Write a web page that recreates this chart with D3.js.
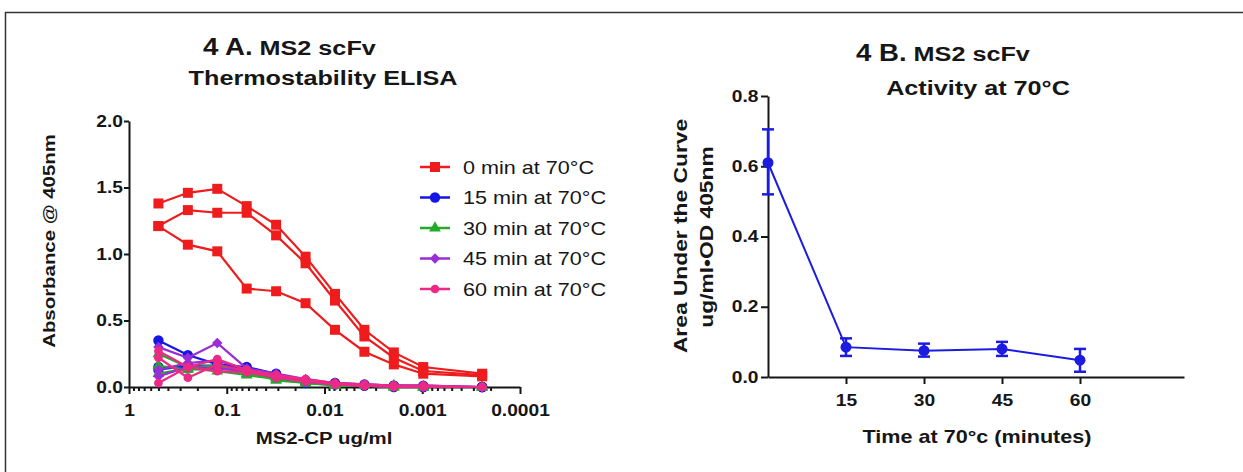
<!DOCTYPE html>
<html lang="en">
<head>
<meta charset="UTF-8">
<title>MS2 scFv thermostability</title>
<style>
    body { margin: 0; padding: 0; background: #fff; }
    svg text { font-family: "Liberation Sans", Arial, sans-serif; fill: #161616; }
    .axis path, .axis line { stroke: #161616; stroke-width: 2; }
</style>
</head>
<body>
<script src="https://d3js.org/d3.v7.min.js"></script>
<script>
// ---- panel A data : 2-fold dilutions of MS2-CP (ug/ml) ----
const concentrations = [0.5, 0.25, 0.125, 0.0625, 0.03125, 0.015625, 0.0078125, 0.00390625, 0.001953, 0.000977, 0.000244];
const xTicksA = [1, 0.1, 0.01, 0.001, 0.0001];
const yTicksA = [0, 0.5, 1.0, 1.5, 2.0];

// replicates for each heating time (absorbance @ 405nm)
const min0 = [
    [1.38, 1.46, 1.49, 1.36, 1.22, 0.98, 0.70, 0.43, 0.26, 0.15, 0.10],
    [1.21, 1.33, 1.31, 1.31, 1.14, 0.93, 0.65, 0.38, 0.22, 0.12, 0.09],
    [1.21, 1.07, 1.02, 0.74, 0.72, 0.63, 0.43, 0.265, 0.17, 0.10, 0.08]
];
const min15 = [
    [0.35, 0.24, 0.17, 0.15, 0.10, 0.05, 0.03, 0.02, 0.01, 0.01, 0.00],
    [0.13, 0.16, 0.16, 0.14, 0.08, 0.04, 0.02, 0.01, 0.01, 0.00, 0.00],
    [0.15, 0.14, 0.15, 0.12, 0.07, 0.03, 0.02, 0.01, 0.00, 0.00, 0.00]
];
const min30 = [
    [0.25, 0.15, 0.16, 0.10, 0.07, 0.04, 0.02, 0.01, 0.01, 0.00, 0.00],
    [0.16, 0.13, 0.14, 0.12, 0.05, 0.03, 0.02, 0.01, 0.00, 0.00, 0.00],
    [0.10, 0.14, 0.12, 0.09, 0.06, 0.03, 0.01, 0.01, 0.00, 0.00, 0.00]
];
const min45 = [
    [0.30, 0.22, 0.33, 0.14, 0.10, 0.06, 0.03, 0.02, 0.01, 0.01, 0.00],
    [0.13, 0.18, 0.20, 0.13, 0.08, 0.05, 0.02, 0.01, 0.01, 0.00, 0.00],
    [0.08, 0.15, 0.14, 0.12, 0.07, 0.04, 0.02, 0.01, 0.00, 0.00, 0.00]
];
const min60 = [
    [0.27, 0.15, 0.21, 0.13, 0.09, 0.06, 0.03, 0.02, 0.01, 0.01, 0.00],
    [0.22, 0.07, 0.17, 0.12, 0.08, 0.05, 0.02, 0.01, 0.01, 0.00, 0.00],
    [0.03, 0.15, 0.12, 0.11, 0.07, 0.04, 0.02, 0.01, 0.00, 0.00, 0.00]
];
const seriesNames = ["0 min at 70°C", "15 min at 70°C", "30 min at 70°C", "45 min at 70°C", "60 min at 70°C"];
const seriesData = [min0, min15, min30, min45, min60];
const seriesColors = ["#ee1c1c", "#1515e6", "#22aa2a", "#9a2ed6", "#ec2a86"];
const seriesSymbols = [d3.symbolSquare, d3.symbolCircle, d3.symbolTriangle, d3.symbolDiamond2 || d3.symbolDiamond, d3.symbolCircle];
const symbolSizes = [100, 85, 60, 70, 60];

// ---- panel B data : area under the curve vs time at 70°C ----
const timePoints = [0, 15, 30, 45, 60];
const aucMean = [0.61, 0.085, 0.075, 0.08, 0.048];
const aucLow = [0.52, 0.06, 0.058, 0.06, 0.015];
const aucHigh = [0.705, 0.11, 0.095, 0.10, 0.08];
const xTicksB = [15, 30, 45, 60];
const yTicksB = [0, 0.2, 0.4, 0.6, 0.8];

const W = 1243, H = 472;
const WIDE = 1.2; // the figure's lettering is horizontally wide

const svg = d3.select("body").append("svg")
    .attr("width", W)
    .attr("height", H);

// frame around the figure
svg.append("rect")
    .attr("x", 5.5).attr("y", 12.5)
    .attr("width", 1300).attr("height", 500)
    .attr("fill", "none")
    .attr("stroke", "#333")
    .attr("stroke-width", 1.5);

// helper for a stretched text label
function label(txt, x, y, size, opts = {}) {
    return svg.append("text")
        .attr("transform", `translate(${x},${y}) rotate(${opts.rotate || 0}) scale(${WIDE},1)`)
        .attr("text-anchor", opts.anchor || "middle")
        .style("font-size", size + "px")
        .style("font-weight", opts.weight || "bold")
        .text(txt);
}

function styleTicks(g, size) {
    g.selectAll(".tick text")
        .attr("transform", `scale(${WIDE},1)`)
        .style("font-size", size + "px")
        .style("font-weight", "bold")
        .style("font-family", "'Liberation Sans', Arial, sans-serif")
        .attr("fill", "#161616");
}

// ================= Panel A =================
const xA = d3.scaleLog().domain([1, 0.0001]).range([129, 520]);
const yA = d3.scaleLinear().domain([0, 2]).range([387, 121]);

// log ticks 1..9 in every decade, labels only on the decades
const logTicks = [1];
[1, 0.1, 0.01, 0.001].forEach(p => {
    for (let k = 1; k <= 9; k++) logTicks.push(+(p * k / 10).toPrecision(3));
});

const axisXA = svg.append("g")
    .attr("class", "axis")
    .attr("transform", `translate(0,${yA(0)})`)
    .call(d3.axisBottom(xA)
        .tickValues(logTicks)
        .tickSizeOuter(0)
        .tickSizeInner(7)
        .tickPadding(11)
        .tickFormat(d => xTicksA.includes(d) ? String(d) : ""));
axisXA.selectAll(".tick")
    .filter(d => !xTicksA.includes(d))
    .select("line").attr("y2", 4);
styleTicks(axisXA, 16);

const axisYA = svg.append("g")
    .attr("class", "axis")
    .attr("transform", `translate(${xA(1)},0)`)
    .call(d3.axisLeft(yA)
        .tickValues(yTicksA)
        .tickSizeOuter(0)
        .tickSizeInner(5)
        .tickPadding(0)
        .tickFormat(d3.format(".1f")));
styleTicks(axisYA, 16);

const lineA = d3.line()
    .x((d, i) => xA(concentrations[i]))
    .y(d => yA(d));

// draw low series first, red on top at the end
[1, 2, 3, 4, 0].forEach(s => {
    const g = svg.append("g");
    seriesData[s].forEach(rep => {
        g.append("path")
            .datum(rep)
            .attr("d", lineA)
            .attr("fill", "none")
            .attr("stroke", seriesColors[s])
            .attr("stroke-width", 2.2);
        g.selectAll(null)
            .data(rep)
            .enter().append("path")
            .attr("d", d3.symbol().type(seriesSymbols[s]).size(symbolSizes[s]))
            .attr("transform", (d, i) => `translate(${xA(concentrations[i])},${yA(d)})`)
            .attr("fill", seriesColors[s]);
    });
});

// legend
const legend = svg.append("g").attr("transform", "translate(420,0)");
const legendY = d3.scalePoint().domain(seriesNames).range([167, 289]);
seriesNames.forEach((name, s) => {
    const y = legendY(name);
    legend.append("line")
        .attr("x1", 0).attr("x2", 30)
        .attr("y1", y).attr("y2", y)
        .attr("stroke", seriesColors[s])
        .attr("stroke-width", 2.5);
    legend.append("path")
        .attr("d", d3.symbol().type(seriesSymbols[s]).size(symbolSizes[s]))
        .attr("transform", `translate(15,${y})`)
        .attr("fill", seriesColors[s]);
    legend.append("text")
        .attr("transform", `translate(43,${y + 6.5}) scale(${WIDE},1)`)
        .style("font-size", "18px")
        .text(name);
});

// titles & axis labels A
const tA = label("", 203, 55, 21, { anchor: "start" });
tA.append("tspan").style("font-size", "23px").text("4 A.");
tA.append("tspan").text(" MS2 scFv");
label("Thermostability ELISA", 323, 85, 21);
label("Absorbance @ 405nm", 55, 241, 17, { rotate: -90 });
label("MS2-CP ug/ml", 324, 444, 17);

// ================= Panel B =================
const xB = d3.scaleLinear().domain([0, 80]).range([768, 1184]);
const yB = d3.scaleLinear().domain([0, 0.8]).range([377, 96]);

const axisXB = svg.append("g")
    .attr("class", "axis")
    .attr("transform", `translate(0,${yB(0)})`)
    .call(d3.axisBottom(xB)
        .tickValues(xTicksB)
        .tickSizeOuter(0)
        .tickSizeInner(7)
        .tickPadding(11));
styleTicks(axisXB, 16);

const axisYB = svg.append("g")
    .attr("class", "axis")
    .attr("transform", `translate(${xB(0)},0)`)
    .call(d3.axisLeft(yB)
        .tickValues(yTicksB)
        .tickSizeOuter(0)
        .tickSizeInner(7)
        .tickPadding(1)
        .tickFormat(d3.format(".1f")));
styleTicks(axisYB, 16);

const blue = "#1c1ce0";
const pointsB = timePoints.map((t, i) => ({ t: t, m: aucMean[i], lo: aucLow[i], hi: aucHigh[i] }));

svg.append("path")
    .datum(pointsB)
    .attr("d", d3.line().x(d => xB(d.t)).y(d => yB(d.m)))
    .attr("fill", "none")
    .attr("stroke", blue)
    .attr("stroke-width", 2);

const bars = svg.append("g").attr("stroke", blue).attr("stroke-width", 2.5);
pointsB.forEach(d => {
    const x = xB(d.t);
    bars.append("line").attr("x1", x).attr("x2", x).attr("y1", yB(d.lo)).attr("y2", yB(d.hi));
    bars.append("line").attr("x1", x - 6).attr("x2", x + 6).attr("y1", yB(d.lo)).attr("y2", yB(d.lo));
    bars.append("line").attr("x1", x - 6).attr("x2", x + 6).attr("y1", yB(d.hi)).attr("y2", yB(d.hi));
});

svg.append("g").selectAll("circle")
    .data(pointsB)
    .enter().append("circle")
    .attr("cx", d => xB(d.t))
    .attr("cy", d => yB(d.m))
    .attr("r", 5.5)
    .attr("fill", blue);

// titles & axis labels B
const tB = label("", 856, 61, 21, { anchor: "start" });
tB.append("tspan").style("font-size", "23px").text("4 B.");
tB.append("tspan").text(" MS2 scFv");
label("Activity at 70°C", 978, 95, 21);
label("Area Under the Curve", 687, 236, 19, { rotate: -90 });
label("ug/ml•OD 405nm", 713, 237, 19, { rotate: -90 });
label("Time at 70°c (minutes)", 977, 443, 18);
</script>
</body>
</html>
